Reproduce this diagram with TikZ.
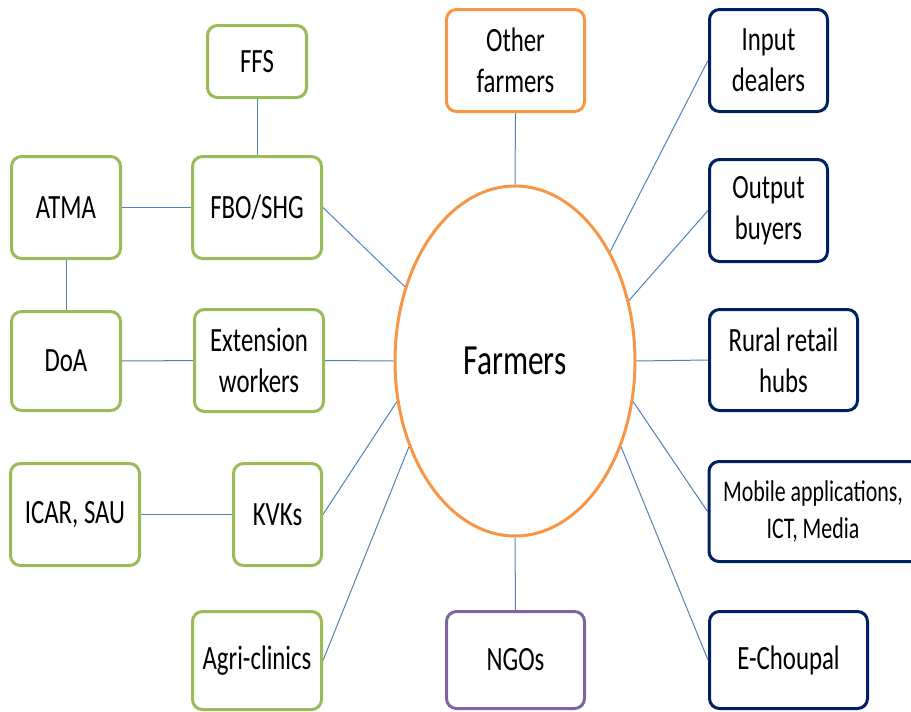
\documentclass[tikz,border=0pt]{standalone}
\usepackage{fontspec}
\setmainfont{Carlito}[FakeStretch=0.73]
\usetikzlibrary{shapes.geometric}
\definecolor{cgreen}{HTML}{9BBB59}
\definecolor{corange}{HTML}{F79646}
\definecolor{cnavy}{HTML}{002060}
\definecolor{cpurple}{HTML}{8064A2}
\definecolor{cline}{HTML}{4F81BD}
\tikzset{
  box/.style={draw, rounded corners=10pt, line width=3pt, inner sep=0pt, align=center,
    font=\fontsize{34}{41}\selectfont},
  gbox/.style={box, draw=cgreen},
  nbox/.style={box, draw=cnavy},
  obox/.style={box, draw=corange},
  pbox/.style={box, draw=cpurple},
  conn/.style={draw=cline, line width=1pt},
}
\begin{document}
\begin{tikzpicture}[x=1pt,y=-1pt]
\useasboundingbox (0,0) rectangle (911,712);
\node[ellipse, draw=corange, line width=3pt, minimum width=240pt, minimum height=350pt, inner sep=0pt,
  font=\fontsize{43}{50}\selectfont] (F) at (515,361) {Farmers};
\node[gbox, minimum width=99pt, minimum height=72pt] (ffs) at (257,61.5) {FFS};
\node[gbox, minimum width=109pt, minimum height=102pt] (atma) at (66,207.5) {ATMA};
\node[gbox, minimum width=129pt, minimum height=102pt] (fbo) at (257,207.5) {FBO/SHG};
\node[gbox, minimum width=109pt, minimum height=99pt] (doa) at (66,361) {DoA};
\node[gbox, minimum width=129pt, minimum height=102pt] (ext) at (259,360.5) {Extension\\workers};
\node[gbox, minimum width=129pt, minimum height=102pt] (icar) at (75,514.5) {ICAR, SAU};
\node[gbox, minimum width=88pt, minimum height=102pt] (kvk) at (277.5,514.5) {KVKs};
\node[gbox, minimum width=129pt, minimum height=98pt] (agri) at (257,660.5) {Agri-clinics};
\node[pbox, minimum width=138pt, minimum height=97pt] (ngo) at (515.5,660) {NGOs};
\node[obox, minimum width=138pt, minimum height=102pt] (oth) at (515.5,60.5) {Other\\farmers};
\node[nbox, minimum width=118pt, minimum height=102pt] (inp) at (768.5,60.5) {Input\\dealers};
\node[nbox, minimum width=118pt, minimum height=102pt] (outp) at (768.5,210.5) {Output\\buyers};
\node[nbox, minimum width=148pt, minimum height=101pt] (rur) at (783.5,360) {Rural retail\\hubs};
\node[nbox, minimum width=224pt, minimum height=100pt] (mob) at (821,511.5) {};
\node[font=\fontsize{30}{37}\selectfont, align=center, inner sep=0pt] (mobt) at (813,511.5) {Mobile applications,\\ICT, Media};
\node[nbox, minimum width=158pt, minimum height=97pt] (ech) at (788.5,660) {E-Choupal};
\path[conn] (ffs) -- (fbo);
\path[conn] (atma) -- (fbo);
\path[conn] (atma) -- (doa);
\path[conn] (doa) -- (ext);
\path[conn] (icar) -- (kvk);
\path[conn] (fbo.east) -- (F.146.5);
\path[conn] (ext.east) -- (F.180);
\path[conn] (kvk.east) -- (F.199.7);
\path[conn] (agri.east) -- (F.219);
\path[conn] (oth.south) -- (F.90);
\path[conn] (ngo.north) -- (F.270);
\path[conn] (inp.west) -- (F.49.4);
\path[conn] (outp.west) -- (F.28.5);
\path[conn] (rur.west) -- (F.0);
\path[conn] (mob.west) -- (F.341);
\path[conn] (ech.west) -- (F.321);
\end{tikzpicture}
\end{document}
